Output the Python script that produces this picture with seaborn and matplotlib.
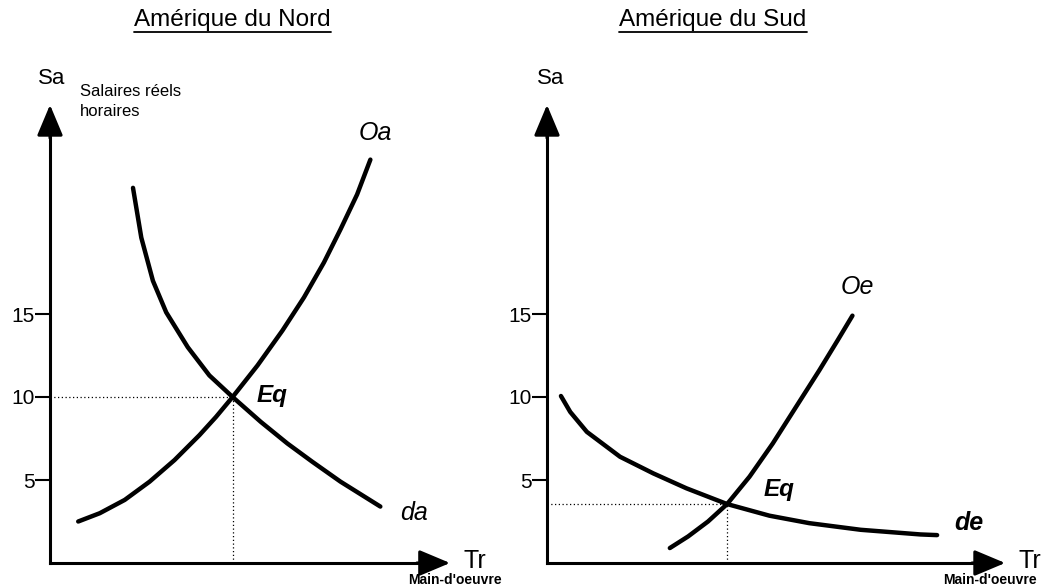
import numpy as np
import pandas as pd
import matplotlib
matplotlib.use("Agg")
import matplotlib.pyplot as plt
import seaborn as sns

# Amérique du Nord : offre (Oa) et demande (da) de travail
oa_x = [1.7, 3.0, 4.5, 6.0, 7.5, 9.0, 10.0, 11.0, 12.5, 14.0, 15.3, 16.5, 17.5, 18.5, 19.3]
oa_y = [2.5, 3.0, 3.8, 4.9, 6.2, 7.7, 8.8, 10.0, 11.9, 14.0, 16.0, 18.1, 20.1, 22.2, 24.3]
da_x = [5.0, 5.5, 6.2, 7.0, 8.3, 9.6, 11.0, 12.7, 14.3, 15.8, 17.5, 19.9]
da_y = [22.6, 19.6, 17.0, 15.1, 13.0, 11.3, 10.0, 8.5, 7.2, 6.1, 4.9, 3.4]
eq_nord = (11.0, 10.0)

# Amérique du Sud : offre (Oe) et demande (de)
oe_x = [7.4, 8.5, 9.7, 10.85, 12.2, 13.6, 15.0, 16.4, 17.5, 18.4]
oe_y = [0.9, 1.6, 2.5, 3.55, 5.2, 7.2, 9.4, 11.6, 13.4, 14.9]
de_x = [0.84, 1.4, 2.4, 4.4, 6.4, 8.4, 10.85, 13.4, 15.8, 18.9, 22.5, 23.5]
de_y = [10.06, 9.1, 7.9, 6.4, 5.4, 4.5, 3.55, 2.85, 2.4, 2.0, 1.72, 1.68]
eq_sud = (10.85, 3.55)

y_ticks = [5, 10, 15]

sns.set_theme(style="white")
plt.rcParams["font.family"] = ["Liberation Sans", "DejaVu Sans"]
plt.rcParams["text.color"] = "black"
plt.rcParams["ytick.color"] = "black"
plt.rcParams["xtick.color"] = "black"
plt.rcParams["lines.solid_joinstyle"] = "round"
plt.rcParams["lines.solid_capstyle"] = "round"

fig = plt.figure(figsize=(10.47, 5.87), dpi=100)
PX = 16.6  # pixels par unité

def make_axes(left_px, right_px, axis_px):
    ax = fig.add_axes([left_px / 1047, 0, (right_px - left_px) / 1047, 1])
    ax.set_xlim((left_px - axis_px) / PX, (right_px - axis_px) / PX)
    ax.set_ylim((563 - 587) / PX, 563 / PX)
    ax.patch.set_alpha(0)
    for s in ["top", "right"]:
        ax.spines[s].set_visible(False)
    for s in ["left", "bottom"]:
        ax.spines[s].set_position(("data", 0))
        ax.spines[s].set_linewidth(2.2)
        ax.spines[s].set_color("black")
    ax.set_yticks(y_ticks)
    ax.set_yticklabels([str(t) for t in y_ticks])
    ax.set_xticks([])
    ax.tick_params(axis="y", direction="out", length=11, width=1.5,
                   pad=0, labelsize=15, colors="black", left=True)
    ax.grid(False)
    return ax

def axis_arrows(ax, xtip, ytip):
    ax.spines["left"].set_bounds(0, ytip - 0.8)
    ax.spines["bottom"].set_bounds(0, xtip - 0.8)
    props = dict(arrowstyle="-|>,head_length=1.0,head_width=0.42",
                 mutation_scale=19, color="black", lw=2.2,
                 shrinkA=0, shrinkB=0)
    ax.annotate("", xy=(0, ytip), xytext=(0, ytip - 2.0), arrowprops=props)
    ax.annotate("", xy=(xtip, 0), xytext=(xtip - 2.0, 0), arrowprops=props)

def curve(ax, xs, ys):
    df = pd.DataFrame({"x": xs, "y": ys})
    sns.lineplot(data=df, x="x", y="y", sort=False, estimator=None,
                 color="black", lw=3.2, ax=ax)

def eq_lines(ax, eq):
    ax.plot([0, eq[0]], [eq[1], eq[1]], ls=(0, (1, 2)), color="black", lw=0.9)
    ax.plot([eq[0], eq[0]], [0, eq[1]], ls=(0, (1, 2)), color="black", lw=0.9)

# --- Amérique du Nord
ax1 = make_axes(0, 520, 50)
axis_arrows(ax1, 24.1, 27.6)
curve(ax1, oa_x, oa_y)
curve(ax1, da_x, da_y)
eq_lines(ax1, eq_nord)
t1 = ax1.text(11.0, 32.7, "Amérique du Nord", ha="center", va="center", fontsize=17.5)
ax1.text(0.1, 29.2, "Sa", ha="center", va="center", fontsize=16)
ax1.text(1.8, 28.4, "Salaires réels", ha="left", va="center", fontsize=12)
ax1.text(1.8, 27.2, "horaires", ha="left", va="center", fontsize=12)
ax1.text(19.6, 25.9, "Oa", ha="center", va="center", fontsize=18, style="italic")
ax1.text(13.4, 10.1, "Eq", ha="center", va="center", fontsize=17.5,
         style="italic", weight="bold")
ax1.text(21.9, 3.0, "da", ha="center", va="center", fontsize=18, style="italic")
ax1.text(25.6, 0.1, "Tr", ha="center", va="center", fontsize=18)
ax1.text(24.4, -1.05, "Main-d'oeuvre", ha="center", va="center", fontsize=10,
         weight="bold")

# --- Amérique du Sud
ax2 = make_axes(520, 1047, 547)
axis_arrows(ax2, 27.6, 27.6)
curve(ax2, oe_x, oe_y)
curve(ax2, de_x, de_y)
eq_lines(ax2, eq_sud)
t2 = ax2.text(10.0, 32.7, "Amérique du Sud", ha="center", va="center", fontsize=17.5)
ax2.text(0.2, 29.2, "Sa", ha="center", va="center", fontsize=16)
ax2.text(18.7, 16.6, "Oe", ha="center", va="center", fontsize=18, style="italic")
ax2.text(14.0, 4.4, "Eq", ha="center", va="center", fontsize=17.5,
         style="italic", weight="bold")
ax2.text(25.4, 2.4, "de", ha="center", va="center", fontsize=18,
         style="italic", weight="bold")
ax2.text(29.1, 0.1, "Tr", ha="center", va="center", fontsize=18)
ax2.text(26.7, -1.05, "Main-d'oeuvre", ha="center", va="center", fontsize=10,
         weight="bold")

for ax in (ax1, ax2):
    ax.set_xlabel("")
    ax.set_ylabel("")

# soulignement des titres
fig.canvas.draw()
renderer = fig.canvas.get_renderer()
for ax, t in ((ax1, t1), (ax2, t2)):
    bb = t.get_window_extent(renderer).transformed(ax.transData.inverted())
    yl = bb.y0 - 0.05
    ax.plot([bb.x0, bb.x1], [yl, yl], color="black", lw=1.3, clip_on=False)

fig.savefig("out.png", dpi=100)
